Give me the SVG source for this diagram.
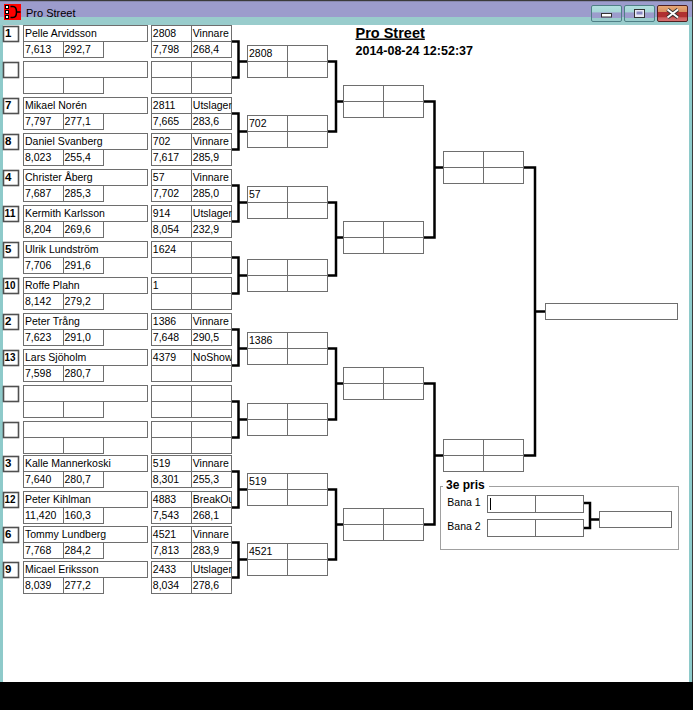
<svg xmlns="http://www.w3.org/2000/svg" width="693" height="710" viewBox="0 0 693 710">
<style>
.box{fill:#fff;stroke:#6e6e6e;stroke-width:1}
.seed{fill:#fff;stroke:#505050;stroke-width:1.6}
.t{font-family:"Liberation Sans",Arial,sans-serif;font-size:10.5px;fill:#000}
.s{font-family:"Liberation Sans",Arial,sans-serif;font-size:11.5px;font-weight:bold;fill:#000}
.h{font-family:"Liberation Sans",Arial,sans-serif;font-weight:bold;fill:#000}
.conn{fill:none;stroke:#000;stroke-width:2.5}
.frame{fill:none;stroke:#a0a0a0;stroke-width:1}
</style>
<defs>
<g id="entFrame">
<rect class="seed" x="3.5" y="1" width="15" height="15"/>
<rect class="box" x="23.5" y="0" width="124" height="16"/>
<rect class="box" x="23.5" y="16" width="40" height="16"/>
<rect class="box" x="63.5" y="16" width="40" height="16"/>
</g>
<g id="cell4">
<rect class="box" x="0" y="0" width="40" height="16"/>
<rect class="box" x="40" y="0" width="40" height="16"/>
<rect class="box" x="0" y="16" width="40" height="16"/>
<rect class="box" x="40" y="16" width="40" height="16"/>
</g>
<linearGradient id="gBtn" x1="0" y1="0" x2="0" y2="1">
<stop offset="0" stop-color="#b2e0e0"/><stop offset="0.42" stop-color="#a6d6d6"/>
<stop offset="0.45" stop-color="#9c9ccc"/><stop offset="0.75" stop-color="#9c9ccc"/>
<stop offset="0.78" stop-color="#99cccc"/><stop offset="1" stop-color="#99cccc"/>
</linearGradient>
<linearGradient id="gClose" x1="0" y1="0" x2="0" y2="1">
<stop offset="0" stop-color="#e8aa78"/><stop offset="0.38" stop-color="#d89060"/>
<stop offset="0.42" stop-color="#b03030"/><stop offset="0.72" stop-color="#b03030"/>
<stop offset="0.76" stop-color="#cc6060"/><stop offset="1" stop-color="#d87070"/>
</linearGradient>
</defs>

<g id="window">
<rect x="0" y="0" width="693" height="710" fill="#fff"/>
<rect x="0" y="0" width="693" height="17" fill="#9c9ccc"/>
<rect x="0" y="17" width="693" height="8" fill="#99cccc"/>
<rect x="0" y="0" width="693" height="1.2" fill="#3a3a3a"/>
<rect x="0" y="25" width="3" height="657" fill="#8ecaca"/>
<rect x="689" y="17" width="3" height="665" fill="#8ecaca"/>
<rect x="692" y="0" width="1" height="682" fill="#3a3a3a"/>
<rect x="0" y="682" width="693" height="28" fill="#000"/>
<rect x="4" y="4" width="17" height="16" fill="#ff0000"/>
<rect x="5.5" y="5.5" width="3" height="3" fill="#fff" stroke="#000" stroke-width="1"/>
<rect x="5.5" y="10.5" width="3" height="3" fill="#fff" stroke="#000" stroke-width="1"/>
<rect x="5.5" y="15.5" width="3" height="3" fill="#fff" stroke="#000" stroke-width="1"/>
<path d="M10.5 6.5 H13 Q16.5 6.5 16.5 12 Q16.5 17.5 13 17.5 H10.5" fill="none" stroke="#000" stroke-width="1.5"/>
<path d="M16.5 12 H20.5" stroke="#000" stroke-width="1.5"/>
<text x="26" y="17.3" font-family="Liberation Sans, Arial, sans-serif" font-size="11px" fill="#000">Pro Street</text>
<rect x="591.5" y="5.5" width="30" height="16" rx="1.5" fill="url(#gBtn)" stroke="#4f7f86"/>
<rect x="601.5" y="13.5" width="10" height="3.5" fill="#fff" stroke="#333"/>
<rect x="624.5" y="5.5" width="30" height="16" rx="1.5" fill="url(#gBtn)" stroke="#4f7f86"/>
<rect x="634.5" y="9.5" width="10" height="8" fill="#e8e8f4" stroke="#333"/>
<rect x="636.5" y="11.5" width="6" height="3" fill="#8888c0"/>
<rect x="657.5" y="5.5" width="30" height="16" rx="1.5" fill="url(#gClose)" stroke="#502020"/>
<path d="M667.5 9.5 L678 17.5 M678 9.5 L667.5 17.5" stroke="#333" stroke-width="4"/>
<path d="M667.5 9.5 L678 17.5 M678 9.5 L667.5 17.5" stroke="#fff" stroke-width="2"/>
</g>

<g id="header">
<text class="h" x="355.5" y="37.5" font-size="14.5px" text-decoration="underline">Pro Street</text>
<text class="h" x="355.5" y="55.3" font-size="12.5px">2014-08-24 12:52:37</text>
</g>

<g id="connectors">
<path class="conn" d="M231.5 41.5H238.5V77.5H231.5M238.5 61.5H247.5"/>
<path class="conn" d="M231.5 113.5H238.5V149.5H231.5M238.5 131.5H247.5"/>
<path class="conn" d="M231.5 185.5H238.5V221.5H231.5M238.5 202.5H247.5"/>
<path class="conn" d="M231.5 257.5H238.5V293.5H231.5M238.5 275.5H247.5"/>
<path class="conn" d="M231.5 329.5H238.5V365.5H231.5M238.5 348.5H247.5"/>
<path class="conn" d="M231.5 401.5H238.5V437.5H231.5M238.5 419.5H247.5"/>
<path class="conn" d="M231.5 471.5H238.5V507.5H231.5M238.5 489.5H247.5"/>
<path class="conn" d="M231.5 542.5H238.5V577.5H231.5M238.5 559.5H247.5"/>
<path class="conn" d="M327.5 61.5H336V131.5H327.5M336 101.5H343.5"/>
<path class="conn" d="M327.5 202.5H336V275.5H327.5M336 237.5H343.5"/>
<path class="conn" d="M327.5 348.5H336V419.5H327.5M336 383.5H343.5"/>
<path class="conn" d="M327.5 489.5H336V559.5H327.5M336 524.5H343.5"/>
<path class="conn" d="M423.5 101.5H434.5V237.5H423.5M434.5 167.5H443.5"/>
<path class="conn" d="M423.5 383.5H434.5V524.5H423.5M434.5 455.5H443.5"/>
<path class="conn" d="M523.5 167.5H535V455.5H523.5M535 311.5H545.5"/>
<path class="conn" d="M583.5 503H590V528H583.5M590 519.5H599.5"/>
</g>

<g id="e0"><use href="#entFrame" y="25.5"/><text class="s" x="5" y="37">1</text><text class="t" x="25" y="37">Pelle Arvidsson</text><text class="t" x="25" y="53">7,613</text><text class="t" x="64.5" y="53">292,7</text></g>
<g id="e1"><use href="#entFrame" y="61.5"/></g>
<g id="e2"><use href="#entFrame" y="97.5"/><text class="s" x="5" y="109">7</text><text class="t" x="25" y="109">Mikael Norén</text><text class="t" x="25" y="125">7,797</text><text class="t" x="64.5" y="125">277,1</text></g>
<g id="e3"><use href="#entFrame" y="133.5"/><text class="s" x="5" y="145">8</text><text class="t" x="25" y="145">Daniel Svanberg</text><text class="t" x="25" y="161">8,023</text><text class="t" x="64.5" y="161">255,4</text></g>
<g id="e4"><use href="#entFrame" y="169.5"/><text class="s" x="5" y="181">4</text><text class="t" x="25" y="181">Christer Åberg</text><text class="t" x="25" y="197">7,687</text><text class="t" x="64.5" y="197">285,3</text></g>
<g id="e5"><use href="#entFrame" y="205.5"/><text class="s" x="4.5" y="217" textLength="11" lengthAdjust="spacingAndGlyphs">11</text><text class="t" x="25" y="217">Kermith Karlsson</text><text class="t" x="25" y="233">8,204</text><text class="t" x="64.5" y="233">269,6</text></g>
<g id="e6"><use href="#entFrame" y="241.5"/><text class="s" x="5" y="253">5</text><text class="t" x="25" y="253">Ulrik Lundström</text><text class="t" x="25" y="269">7,706</text><text class="t" x="64.5" y="269">291,6</text></g>
<g id="e7"><use href="#entFrame" y="277.5"/><text class="s" x="4.5" y="289" textLength="11" lengthAdjust="spacingAndGlyphs">10</text><text class="t" x="25" y="289">Roffe Plahn</text><text class="t" x="25" y="305">8,142</text><text class="t" x="64.5" y="305">279,2</text></g>
<g id="e8"><use href="#entFrame" y="313.5"/><text class="s" x="5" y="325">2</text><text class="t" x="25" y="325">Peter Trång</text><text class="t" x="25" y="341">7,623</text><text class="t" x="64.5" y="341">291,0</text></g>
<g id="e9"><use href="#entFrame" y="349.5"/><text class="s" x="4.5" y="361" textLength="11" lengthAdjust="spacingAndGlyphs">13</text><text class="t" x="25" y="361">Lars Sjöholm</text><text class="t" x="25" y="377">7,598</text><text class="t" x="64.5" y="377">280,7</text></g>
<g id="e10"><use href="#entFrame" y="385.5"/></g>
<g id="e11"><use href="#entFrame" y="421.5"/></g>
<g id="e12"><use href="#entFrame" y="455.5"/><text class="s" x="5" y="467">3</text><text class="t" x="25" y="467">Kalle Mannerkoski</text><text class="t" x="25" y="483">7,640</text><text class="t" x="64.5" y="483">280,7</text></g>
<g id="e13"><use href="#entFrame" y="491.5"/><text class="s" x="4.5" y="503" textLength="11" lengthAdjust="spacingAndGlyphs">12</text><text class="t" x="25" y="503">Peter Kihlman</text><text class="t" x="25" y="519">11,420</text><text class="t" x="64.5" y="519">160,3</text></g>
<g id="e14"><use href="#entFrame" y="526.5"/><text class="s" x="5" y="538">6</text><text class="t" x="25" y="538">Tommy Lundberg</text><text class="t" x="25" y="554">7,768</text><text class="t" x="64.5" y="554">284,2</text></g>
<g id="e15"><use href="#entFrame" y="561.5"/><text class="s" x="5" y="573">9</text><text class="t" x="25" y="573">Micael Eriksson</text><text class="t" x="25" y="589">8,039</text><text class="t" x="64.5" y="589">277,2</text></g>

<g id="h0"><use href="#cell4" x="151.5" y="25.5"/><text class="t" x="152.8" y="37">2808</text><text class="t" x="192.8" y="37">Vinnare</text><text class="t" x="152.8" y="53">7,798</text><text class="t" x="192.8" y="53">268,4</text></g>
<g id="h1"><use href="#cell4" x="151.5" y="61.5"/></g>
<g id="h2"><use href="#cell4" x="151.5" y="97.5"/><text class="t" x="152.8" y="109">2811</text><svg x="191.5" y="97.5" width="40" height="16" overflow="hidden"><text class="t" x="1.3" y="11.5">Utslagen</text></svg><text class="t" x="152.8" y="125">7,665</text><text class="t" x="192.8" y="125">283,6</text></g>
<g id="h3"><use href="#cell4" x="151.5" y="133.5"/><text class="t" x="152.8" y="145">702</text><text class="t" x="192.8" y="145">Vinnare</text><text class="t" x="152.8" y="161">7,617</text><text class="t" x="192.8" y="161">285,9</text></g>
<g id="h4"><use href="#cell4" x="151.5" y="169.5"/><text class="t" x="152.8" y="181">57</text><text class="t" x="192.8" y="181">Vinnare</text><text class="t" x="152.8" y="197">7,702</text><text class="t" x="192.8" y="197">285,0</text></g>
<g id="h5"><use href="#cell4" x="151.5" y="205.5"/><text class="t" x="152.8" y="217">914</text><svg x="191.5" y="205.5" width="40" height="16" overflow="hidden"><text class="t" x="1.3" y="11.5">Utslagen</text></svg><text class="t" x="152.8" y="233">8,054</text><text class="t" x="192.8" y="233">232,9</text></g>
<g id="h6"><use href="#cell4" x="151.5" y="241.5"/><text class="t" x="152.8" y="253">1624</text></g>
<g id="h7"><use href="#cell4" x="151.5" y="277.5"/><text class="t" x="152.8" y="289">1</text></g>
<g id="h8"><use href="#cell4" x="151.5" y="313.5"/><text class="t" x="152.8" y="325">1386</text><text class="t" x="192.8" y="325">Vinnare</text><text class="t" x="152.8" y="341">7,648</text><text class="t" x="192.8" y="341">290,5</text></g>
<g id="h9"><use href="#cell4" x="151.5" y="349.5"/><text class="t" x="152.8" y="361">4379</text><svg x="191.5" y="349.5" width="40" height="16" overflow="hidden"><text class="t" x="1.3" y="11.5">NoShow</text></svg></g>
<g id="h10"><use href="#cell4" x="151.5" y="385.5"/></g>
<g id="h11"><use href="#cell4" x="151.5" y="421.5"/></g>
<g id="h12"><use href="#cell4" x="151.5" y="455.5"/><text class="t" x="152.8" y="467">519</text><text class="t" x="192.8" y="467">Vinnare</text><text class="t" x="152.8" y="483">8,301</text><text class="t" x="192.8" y="483">255,3</text></g>
<g id="h13"><use href="#cell4" x="151.5" y="491.5"/><text class="t" x="152.8" y="503">4883</text><svg x="191.5" y="491.5" width="40" height="16" overflow="hidden"><text class="t" x="1.3" y="11.5">BreakOut</text></svg><text class="t" x="152.8" y="519">7,543</text><text class="t" x="192.8" y="519">268,1</text></g>
<g id="h14"><use href="#cell4" x="151.5" y="526.5"/><text class="t" x="152.8" y="538">4521</text><text class="t" x="192.8" y="538">Vinnare</text><text class="t" x="152.8" y="554">7,813</text><text class="t" x="192.8" y="554">283,9</text></g>
<g id="h15"><use href="#cell4" x="151.5" y="561.5"/><text class="t" x="152.8" y="573">2433</text><svg x="191.5" y="561.5" width="40" height="16" overflow="hidden"><text class="t" x="1.3" y="11.5">Utslagen</text></svg><text class="t" x="152.8" y="589">8,034</text><text class="t" x="192.8" y="589">278,6</text></g>

<g id="r2_0"><use href="#cell4" x="247.5" y="45.5"/><text class="t" x="249" y="57">2808</text></g>
<g id="r2_1"><use href="#cell4" x="247.5" y="115.5"/><text class="t" x="249" y="127">702</text></g>
<g id="r2_2"><use href="#cell4" x="247.5" y="186.5"/><text class="t" x="249" y="198">57</text></g>
<g id="r2_3"><use href="#cell4" x="247.5" y="259.5"/></g>
<g id="r2_4"><use href="#cell4" x="247.5" y="332.5"/><text class="t" x="249" y="344">1386</text></g>
<g id="r2_5"><use href="#cell4" x="247.5" y="403.5"/></g>
<g id="r2_6"><use href="#cell4" x="247.5" y="473.5"/><text class="t" x="249" y="485">519</text></g>
<g id="r2_7"><use href="#cell4" x="247.5" y="543.5"/><text class="t" x="249" y="555">4521</text></g>

<g id="r3_0"><use href="#cell4" x="343.5" y="85.5"/></g>
<g id="r3_1"><use href="#cell4" x="343.5" y="221.5"/></g>
<g id="r3_2"><use href="#cell4" x="343.5" y="367.5"/></g>
<g id="r3_3"><use href="#cell4" x="343.5" y="508.5"/></g>

<g id="r4_0"><use href="#cell4" x="443.5" y="151.5"/></g>
<g id="r4_1"><use href="#cell4" x="443.5" y="439.5"/></g>

<g id="final"><rect class="box" x="545.5" y="303.5" width="132" height="16"/></g>

<g id="third">
<rect class="frame" x="440.5" y="486.5" width="238" height="63"/>
<rect x="443" y="479" width="46" height="11" fill="#fff"/>
<text class="h" x="446" y="489" font-size="12px">3e pris</text>
<text class="t" x="447.3" y="506">Bana 1</text>
<text class="t" x="447.3" y="529.5">Bana 2</text>
<rect class="box" x="487.5" y="495.5" width="48" height="17"/>
<rect class="box" x="535.5" y="495.5" width="48" height="17"/>
<rect class="box" x="487.5" y="519.5" width="48" height="17"/>
<rect class="box" x="535.5" y="519.5" width="48" height="17"/>
<line x1="490.5" y1="498" x2="490.5" y2="510" stroke="#000" stroke-width="1"/>
<rect class="box" x="599.5" y="511.5" width="72" height="16"/>
</g>
</svg>
